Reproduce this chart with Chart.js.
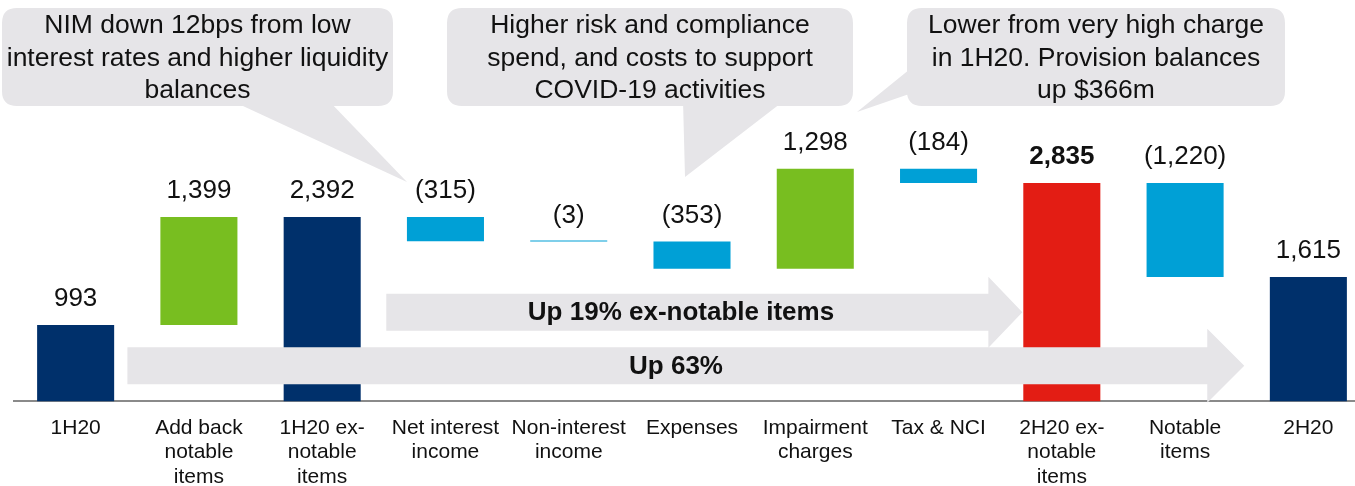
<!DOCTYPE html>
<html><head><meta charset="utf-8">
<script src="https://cdn.jsdelivr.net/npm/chart.js@4.4.1/dist/chart.umd.min.js"></script>
<style>
html,body{margin:0;padding:0;background:#fff;overflow:hidden;width:1355px;height:486px}
#wrap{position:absolute;left:0;top:0;width:1384px;height:503px}
</style></head>
<body><div id="wrap"><canvas id="c"></canvas></div>
<script>
// ---- data ----
const categories = [
  '1H20',
  ['Add back', 'notable', 'items'],
  ['1H20 ex-', 'notable', 'items'],
  ['Net interest', 'income'],
  ['Non-interest', 'income'],
  'Expenses',
  ['Impairment', 'charges'],
  'Tax & NCI',
  ['2H20 ex-', 'notable', 'items'],
  ['Notable', 'items'],
  '2H20'
];
const values  = [993, 1399, 2392, -315, -3, -353, 1298, -184, 2835, -1220, 1615];
const isTotal = [true, false, true, false, false, false, false, false, true, false, true];
const boldLabelIndex = 8;
const calloutLines = [
  ['NIM down 12bps from low', 'interest rates and higher liquidity', 'balances'],
  ['Higher risk and compliance', 'spend, and costs to support', 'COVID-19 activities'],
  ['Lower from very high charge', 'in 1H20. Provision balances', 'up $366m']
];
const arrowTexts = ['Up 19% ex-notable items', 'Up 63%'];

// ---- build waterfall ranges ----
let run = 0;
const ranges = values.map((v, i) => {
  if (isTotal[i]) { run = v; return [0, v]; }
  const a = run; run += v;
  return [Math.min(a, run), Math.max(a, run)];
});
const fmt = v => {
  const s = Math.abs(v).toLocaleString('en-US');
  return v < 0 ? '(' + s + ')' : s;
};

const NAVY = '#00306b', GREEN = '#78be20', BLUE = '#00a0d6', RED = '#e31d14', GREY = '#e6e5e8';
const colors = values.map((v, i) => isTotal[i] ? (i === boldLabelIndex ? RED : NAVY) : (v >= 0 ? GREEN : BLUE));
const FONT = "'Liberation Sans', Arial, sans-serif";

function roundRect(ctx, x, y, w, h, r) {
  ctx.beginPath();
  ctx.moveTo(x + r, y);
  ctx.lineTo(x + w - r, y);
  ctx.quadraticCurveTo(x + w, y, x + w, y + r);
  ctx.lineTo(x + w, y + h - r);
  ctx.quadraticCurveTo(x + w, y + h, x + w - r, y + h);
  ctx.lineTo(x + r, y + h);
  ctx.quadraticCurveTo(x, y + h, x, y + h - r);
  ctx.lineTo(x, y + r);
  ctx.quadraticCurveTo(x, y, x + r, y);
  ctx.closePath();
}

const calloutPlugin = {
  id: 'callouts',
  beforeDatasetsDraw(chart) {
    const ctx = chart.ctx;
    const boxes = [
      {x: 2, y: 8, w: 391, h: 98, tail: [[230, 100], [328, 100], [407, 182]]},
      {x: 447, y: 8, w: 406, h: 98, tail: [[683, 100], [785, 100], [685, 177]]},
      {x: 907, y: 8, w: 378, h: 98, tail: [[857, 112], [915, 65], [915, 92]]}
    ];
    ctx.save();
    ctx.fillStyle = GREY;
    boxes.forEach((b, k) => {
      roundRect(ctx, b.x, b.y, b.w, b.h, 15);
      ctx.fill();
      ctx.beginPath();
      ctx.moveTo(b.tail[0][0], b.tail[0][1]);
      ctx.lineTo(b.tail[1][0], b.tail[1][1]);
      ctx.lineTo(b.tail[2][0], b.tail[2][1]);
      ctx.closePath();
      ctx.fill();
    });
    ctx.fillStyle = '#111';
    ctx.font = '26.5px ' + FONT;
    ctx.textAlign = 'center';
    ctx.textBaseline = 'middle';
    boxes.forEach((b, k) => {
      calloutLines[k].forEach((t, j) => ctx.fillText(t, b.x + b.w / 2, 26 + j * 32.5));
    });
    ctx.restore();
  }
};

const overlayPlugin = {
  id: 'overlay',
  afterDatasetsDraw(chart) {
    const ctx = chart.ctx;
    const xs = chart.scales.x, ys = chart.scales.y;
    const cw = xs.getPixelForValue(1) - xs.getPixelForValue(0);
    const arrows = [
      {x0: xs.getPixelForValue(3) - 0.48 * cw, tip: xs.getPixelForValue(8) - 0.32 * cw, yc: ys.getPixelForValue(1157), bh: 18.5, hh: 35.5, hl: 34, text: arrowTexts[0], tx: 681},
      {x0: xs.getPixelForValue(0) + 0.42 * cw, tip: xs.getPixelForValue(10) - 0.52 * cw, yc: ys.getPixelForValue(462), bh: 18.5, hh: 37, hl: 37, text: arrowTexts[1], tx: 676}
    ];
    ctx.save();
    arrows.forEach(a => {
      const hs = a.tip - a.hl;
      ctx.fillStyle = GREY;
      ctx.beginPath();
      ctx.moveTo(a.x0, a.yc - a.bh);
      ctx.lineTo(hs, a.yc - a.bh);
      ctx.lineTo(hs, a.yc - a.hh);
      ctx.lineTo(a.tip, a.yc);
      ctx.lineTo(hs, a.yc + a.hh);
      ctx.lineTo(hs, a.yc + a.bh);
      ctx.lineTo(a.x0, a.yc + a.bh);
      ctx.closePath();
      ctx.fill();
      ctx.fillStyle = '#111';
      ctx.font = 'bold 26px ' + FONT;
      ctx.textAlign = 'center';
      ctx.textBaseline = 'middle';
      ctx.fillText(a.text, a.tx, a.yc + 1);
    });
    // data labels
    const meta = chart.getDatasetMeta(0);
    ctx.textAlign = 'center';
    ctx.textBaseline = 'middle';
    meta.data.forEach((bar, i) => {
      const top = ys.getPixelForValue(ranges[i][1]);
      ctx.font = (i === boldLabelIndex ? 'bold ' : '') + '26px ' + FONT;
      ctx.fillStyle = '#111';
      ctx.fillText(fmt(values[i]), bar.x, top - 26);
    });
    ctx.restore();
  }
};

new Chart(document.getElementById('c'), {
  type: 'bar',
  data: {
    labels: categories,
    datasets: [{
      data: ranges,
      backgroundColor: colors,
      borderWidth: 0,
      categoryPercentage: 1,
      barPercentage: 0.625,
      minBarLength: 1
    }]
  },
  options: {
    responsive: true,
    maintainAspectRatio: false,
    animation: false,
    layout: {padding: {top: 16, left: 14, right: 14, bottom: 0}},
    plugins: {legend: {display: false}, tooltip: {enabled: false}, title: {display: false}},
    scales: {
      x: {
        grid: {display: false, drawTicks: false},
        border: {display: true, color: '#8a8a8a', width: 2},
        ticks: {color: '#111', font: {family: FONT, size: 21, lineHeight: 1.167}, padding: 14, maxRotation: 0, autoSkip: false}
      },
      y: {display: false, min: 0, max: 5000}
    }
  },
  plugins: [calloutPlugin, overlayPlugin]
});
</script>
</body></html>
